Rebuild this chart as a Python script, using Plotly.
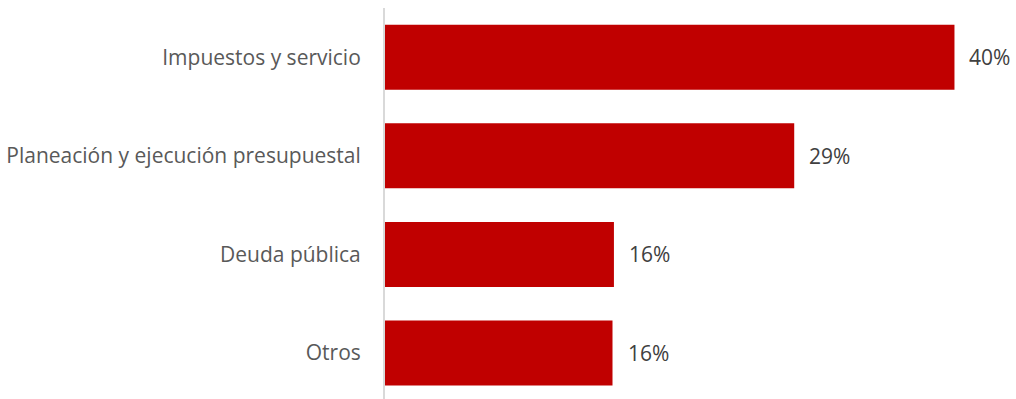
import plotly.graph_objects as go

categories = ["Impuestos y servicio", "Planeación y ejecución presupuestal", "Deuda pública", "Otros"]
values = [39.8, 28.6, 16.0, 15.9]
labels = ["40%", "29%", "16%", "16%"]

BAR_COLOR = "#C00000"
FONT = "Open Sans"

fig = go.Figure()
fig.add_trace(go.Bar(
    y=categories, x=values, orientation="h",
    marker=dict(color=BAR_COLOR, line=dict(width=0)),
    width=0.66, hoverinfo="skip",
))

for c, v, t in zip(categories, values, labels):
    fig.add_annotation(x=v, y=c, text=t, showarrow=False, xanchor="left",
                       xshift=13, font=dict(family=FONT, size=21, color="#404040"))

fig.update_layout(
    width=1016, height=399,
    margin=dict(l=385, r=0, t=8, b=0),
    paper_bgcolor="white", plot_bgcolor="white",
    showlegend=False,
    xaxis=dict(range=[0, 44.1], visible=False, fixedrange=True),
    yaxis=dict(
        categoryorder="array", categoryarray=categories,
        range=[3.467, -0.5],
        showline=True, linecolor="#d9d9d9", linewidth=2,
        showgrid=False, zeroline=False, ticks="",
        ticklabelstandoff=18,
        tickfont=dict(family=FONT, size=21, color="#595959"),
    ),
)

fig.write_html("out.html")
